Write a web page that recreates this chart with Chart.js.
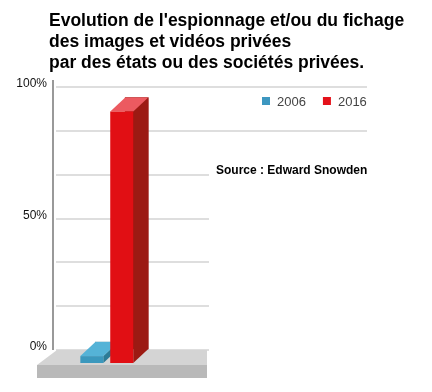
<!DOCTYPE html>
<html>
<head>
<meta charset="utf-8">
<script src="https://cdn.jsdelivr.net/npm/chart.js@4.4.1/dist/chart.umd.min.js"></script>
<style>
  body { margin: 0; background: #fff; }
  #wrap { width: 432px; height: 392px; }
</style>
</head>
<body>
<div id="wrap"><canvas id="chart" width="432" height="392"></canvas></div>
<script>
const titleLines = [
  "Evolution de l'espionnage et/ou du fichage",
  "des images et vidéos privées",
  "par des états ou des sociétés privées."
];
const years = [2006, 2016];
const seriesLabels = ["2006", "2016"];
const values = [3, 96];
const shownTicks = [0, 50, 100];
const sourceText = "Source : Edward Snowden";

const frontColors = ["#3b98bd", "#e10f14"];
const topColors = ["#55b3d7", "#ec5a60"];
const sideColors = ["#2c7b96", "#9c1a13"];
const legendColors = ["#3d97c0", "#e4121b"];

const FONT = "'Liberation Sans', Arial, sans-serif";
const DX = 15, DY = 14;

const bars3d = {
  id: "bars3d",
  beforeDatasetsDraw(chart) {
    const ctx = chart.ctx;
    const a = chart.chartArea;
    ctx.save();
    // white patch over the lower right part of the wall
    ctx.fillStyle = "#fff";
    ctx.fillRect(209, 140, 165, a.bottom - 138);
    // y axis line
    ctx.strokeStyle = "#999";
    ctx.lineWidth = 2;
    ctx.beginPath();
    ctx.moveTo(53, a.top - 7);
    ctx.lineTo(53, a.bottom);
    ctx.stroke();
    // floor
    const y0 = a.bottom;
    ctx.fillStyle = "#d4d4d4";
    ctx.beginPath();
    ctx.moveTo(57, y0);
    ctx.lineTo(207, y0);
    ctx.lineTo(207, y0 + 15);
    ctx.lineTo(37, y0 + 15);
    ctx.closePath();
    ctx.fill();
    ctx.fillStyle = "#b9b9b9";
    ctx.fillRect(37, y0 + 15, 170, 13);
    ctx.restore();
  },
  afterDatasetsDraw(chart) {
    const ctx = chart.ctx;
    ctx.save();
    chart.data.datasets.forEach((ds, i) => {
      const meta = chart.getDatasetMeta(i);
      meta.data.forEach(el => {
        const { x, y, base, width } = el.getProps(["x", "y", "base", "width"], true);
        const l = x - width / 2, r = x + width / 2;
        ctx.fillStyle = ds.sideColor;
        ctx.beginPath();
        ctx.moveTo(r - DX, y + DY);
        ctx.lineTo(r, y);
        ctx.lineTo(r, base);
        ctx.lineTo(r - DX, base + DY);
        ctx.closePath();
        ctx.fill();
        ctx.fillStyle = ds.topColor;
        ctx.beginPath();
        ctx.moveTo(l - DX, y + DY);
        ctx.lineTo(l, y);
        ctx.lineTo(r, y);
        ctx.lineTo(r - DX, y + DY);
        ctx.closePath();
        ctx.fill();
        ctx.fillStyle = ds.frontColor;
        ctx.fillRect(l - DX, y + DY, width, base - y);
      });
    });
    ctx.restore();
  },
  afterDraw(chart) {
    const ctx = chart.ctx;
    ctx.save();
    // title
    ctx.font = "bold 17.5px " + FONT;
    ctx.fillStyle = "#000";
    ctx.textBaseline = "alphabetic";
    titleLines.forEach((t, i) => ctx.fillText(t, 49, 26 + i * 21));
    // legend
    ctx.font = "13px " + FONT;
    let lx = 262;
    chart.data.datasets.forEach(ds => {
      ctx.fillStyle = ds.legendColor;
      ctx.fillRect(lx, 97, 8, 8);
      ctx.fillStyle = "#444";
      ctx.fillText(ds.label, lx + 15, 106);
      lx += 15 + ctx.measureText(ds.label).width + 17;
    });
    // source
    ctx.font = "bold 12px " + FONT;
    ctx.fillStyle = "#000";
    ctx.fillText(sourceText, 216, 174);
    ctx.restore();
  }
};

new Chart(document.getElementById("chart"), {
  type: "bar",
  data: {
    datasets: years.map((yr, i) => ({
      label: seriesLabels[i],
      data: [{ x: yr, y: values[i] }],
      backgroundColor: sideColors[i],
      frontColor: frontColors[i],
      topColor: topColors[i],
      sideColor: sideColors[i],
      legendColor: legendColors[i],
      grouped: false,
      barThickness: 23,
      maxBarThickness: 23
    }))
  },
  options: {
    responsive: false,
    animation: false,
    layout: { padding: { left: 0, right: 65, top: 87, bottom: 42 } },
    plugins: {
      legend: { display: false },
      tooltip: { enabled: false }
    },
    scales: {
      x: {
        type: "linear",
        display: false,
        offset: false,
        min: 1989,
        max: 2093,
        afterBuildTicks: s => { s.ticks = years.map(v => ({ value: v })); }
      },
      y: {
        min: 0,
        max: 100,
        afterFit: s => { s.width = 56; },
        border: { display: false },
        grid: { color: "#dedede", lineWidth: 2, drawTicks: false },
        ticks: {
          count: 7,
          padding: 9,
          labelOffset: -3,
          color: "#111",
          font: { family: FONT, size: 12 },
          callback: v => {
            const r = Math.round(v);
            return Math.abs(v - r) < 0.01 && shownTicks.includes(r) ? r + "%" : "";
          }
        }
      }
    }
  },
  plugins: [bars3d]
});
</script>
</body>
</html>
